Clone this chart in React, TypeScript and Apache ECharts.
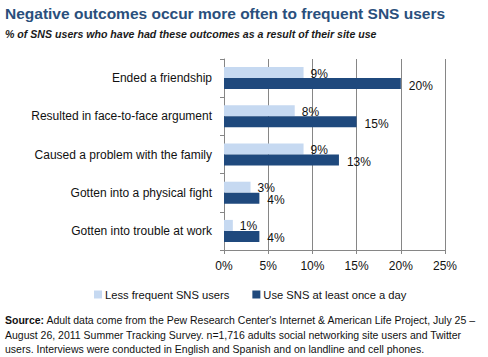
import React, { useEffect, useRef } from "react";
import * as echarts from "echarts";

const categories = [
  "Ended a friendship",
  "Resulted in face-to-face argument",
  "Caused a problem with the family",
  "Gotten into a physical fight",
  "Gotten into trouble at work",
];
const lessFrequent = [9, 8, 9, 3, 1];
const daily = [20, 15, 13, 4, 4];
const xTicks = [0, 5, 10, 15, 20, 25];
const seriesNames = ["Less frequent SNS users", "Use SNS at least once a day"];

const FONT = "Liberation Sans";

export default function App() {
  const ref = useRef<HTMLDivElement>(null);
  useEffect(() => {
    if (!ref.current) return;
    const chart = echarts.init(ref.current, null, { renderer: "svg" });
    chart.setOption({
      animation: false,
      textStyle: { fontFamily: FONT },
      title: [
        {
          text: "Negative outcomes occur more often to frequent SNS users",
          left: 5,
          top: 5,
          padding: 0,
          textStyle: { fontFamily: FONT, fontSize: 15.5, fontWeight: "bold", color: "#2a4f7c" },
        },
        {
          text: "% of SNS users who have had these outcomes as a result of their site use",
          left: 5,
          top: 28,
          padding: 0,
          textStyle: { fontFamily: FONT, fontSize: 10.6, fontStyle: "italic", fontWeight: "bold", color: "#1a1a1a" },
        },
        {
          text:
            "{b|Source:} Adult data come from the Pew Research Center's Internet & American Life Project, July 25 –\nAugust 26, 2011 Summer Tracking Survey. n=1,716 adults social networking site users and Twitter\nusers. Interviews were conducted in English and Spanish and on landline and cell phones.",
          left: 5,
          top: 313,
          padding: 0,
          textStyle: {
            fontFamily: FONT,
            fontSize: 10.5,
            fontWeight: "normal",
            color: "#111",
            lineHeight: 14.5,
            rich: { b: { fontFamily: FONT, fontSize: 10.5, fontWeight: "bold", color: "#111", lineHeight: 14.5 } },
          },
        },
      ],
      legend: {
        data: seriesNames,
        left: 94,
        top: 289,
        padding: 0,
        itemWidth: 8,
        itemHeight: 8,
        itemGap: 23,
        icon: "rect",
        textStyle: { fontFamily: FONT, fontSize: 11.2, color: "#111", padding: [0, 0, 0, -2] },
      },
      grid: { left: 224, right: 43, top: 59, bottom: 107, containLabel: false },
      xAxis: {
        type: "value",
        min: xTicks[0],
        max: xTicks[xTicks.length - 1],
        interval: 5,
        axisLine: { show: true, lineStyle: { color: "#868686" } },
        axisTick: { show: true, length: 4, lineStyle: { color: "#868686" } },
        splitLine: { show: true, lineStyle: { color: "#868686" } },
        axisLabel: { formatter: "{value}%", fontFamily: FONT, fontSize: 12, color: "#111", margin: 10 },
      },
      yAxis: {
        type: "category",
        data: categories,
        inverse: true,
        axisLine: { show: true, lineStyle: { color: "#868686" } },
        axisTick: { show: true, length: 4, lineStyle: { color: "#868686" } },
        axisLabel: { fontFamily: FONT, fontSize: 12, color: "#111", margin: 12 },
      },
      series: [
        {
          name: seriesNames[0],
          type: "bar",
          data: lessFrequent,
          barWidth: 11,
          barGap: "0%",
          itemStyle: { color: "#c6d9f1" },
          label: {
            show: true,
            position: "right",
            distance: 7,
            offset: [0, 1],
            formatter: "{c}%",
            fontFamily: FONT,
            fontSize: 12,
            color: "#111",
          },
        },
        {
          name: seriesNames[1],
          type: "bar",
          data: daily,
          barWidth: 11,
          itemStyle: { color: "#1f497d" },
          label: {
            show: true,
            position: "right",
            distance: 8,
            offset: [0, 2],
            formatter: "{c}%",
            fontFamily: FONT,
            fontSize: 12,
            color: "#111",
          },
        },
      ],
    });
    return () => chart.dispose();
  }, []);
  return <div ref={ref} style={{ width: 488, height: 357, position: "absolute", left: 0, top: 0 }} />;
}
